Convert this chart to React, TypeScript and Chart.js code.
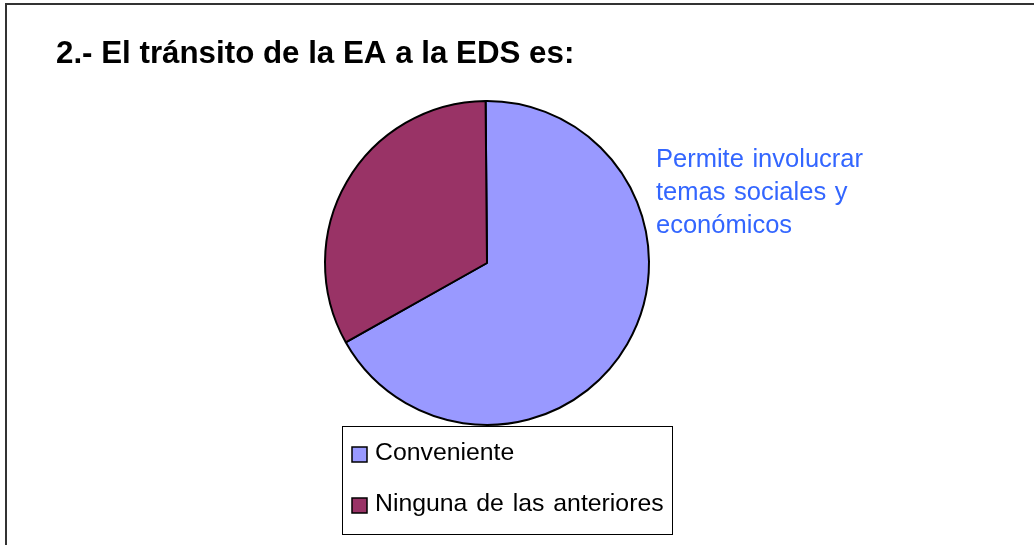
import React, { useEffect, useRef } from "react";
import { Chart, registerables } from "chart.js";

Chart.register(...registerables);

const TITLE = "2.- El tránsito de la EA a la EDS es:";
const CATEGORIES = ["Conveniente", "Ninguna de las anteriores"];
const VALUES = [67, 33];
const COLORS = ["#9999FF", "#993366"];
const NOTE_LINES = ["Permite involucrar", "temas sociales y", "económicos"];

const FONT = '"Liberation Sans", Arial, sans-serif';

const decorPlugin = {
  id: "decor",
  afterDraw(chart: any) {
    const ctx = chart.ctx as any;
    ctx.save();
    // outer frame (left + top)
    ctx.strokeStyle = "#333333";
    ctx.lineWidth = 2;
    ctx.beginPath();
    ctx.moveTo(6, 545);
    ctx.lineTo(6, 4);
    ctx.lineTo(1034, 4);
    ctx.stroke();

    // title
    ctx.fillStyle = "#000000";
    ctx.font = `bold 31.3px ${FONT}`;
    ctx.textBaseline = "alphabetic";
    ctx.textAlign = "left";
    ctx.fillText(TITLE, 56, 63);

    // note text
    ctx.fillStyle = "#3366FF";
    ctx.font = `25.5px ${FONT}`;
    ctx.wordSpacing = "1.5px";
    NOTE_LINES.forEach((t: string, i: number) => ctx.fillText(t, 656, 167 + i * 33));

    // legend
    const lx = 342, ly = 426, lw = 330, lh = 108;
    ctx.fillStyle = "#ffffff";
    ctx.fillRect(lx, ly, lw, lh);
    ctx.strokeStyle = "#000000";
    ctx.lineWidth = 1;
    ctx.strokeRect(lx + 0.5, ly + 0.5, lw, lh);
    const labels = chart.data.labels as string[];
    const bg = chart.data.datasets[0].backgroundColor as string[];
    ctx.font = `24.8px ${FONT}`;
    ctx.wordSpacing = "2px";
    labels.forEach((lab, i) => {
      const y = 447 + i * 51;
      ctx.fillStyle = bg[i];
      ctx.fillRect(352, y, 15, 15);
      ctx.strokeStyle = "#000000";
      ctx.lineWidth = 1.5;
      ctx.strokeRect(352, y, 15, 15);
      ctx.fillStyle = "#000000";
      ctx.fillText(lab, 375, 460 + i * 51);
    });
    ctx.restore();
  },
};

export default function App() {
  const ref = useRef<HTMLCanvasElement | null>(null);
  useEffect(() => {
    document.body.style.margin = "0";
    const chart = new Chart(ref.current as HTMLCanvasElement, {
      type: "pie",
      data: {
        labels: CATEGORIES,
        datasets: [
          {
            data: VALUES,
            backgroundColor: COLORS,
            borderColor: "#000000",
            borderWidth: 2,
          },
        ],
      },
      options: {
        animation: false,
        responsive: false,
        devicePixelRatio: 1,
        rotation: -0.5,
        layout: { padding: { left: 324, right: 384, top: 100, bottom: 119 } },
        plugins: {
          legend: { display: false },
          title: { display: false },
          tooltip: { enabled: false },
        },
      },
      plugins: [decorPlugin],
    });
    return () => chart.destroy();
  }, []);
  return (
    <div style={{ position: "fixed", left: 0, top: 0, width: 1034, height: 545, background: "#fff" }}>
      <canvas ref={ref} width={1034} height={545} />
    </div>
  );
}
